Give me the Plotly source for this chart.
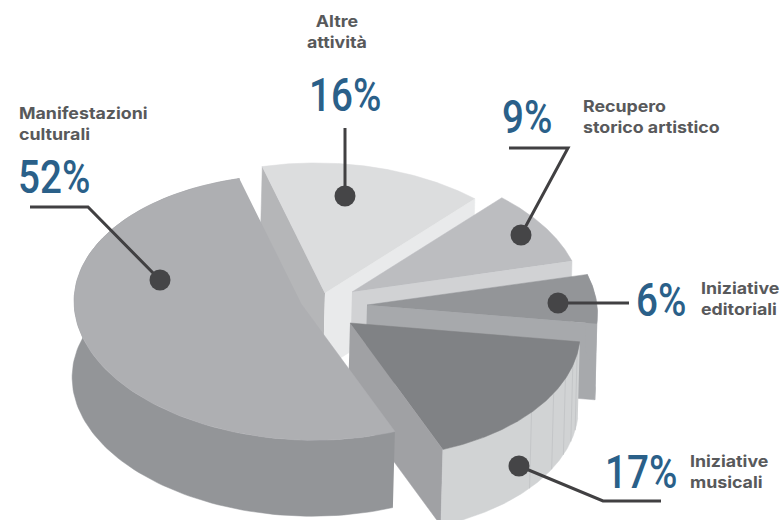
import numpy as np
import plotly.graph_objects as go

# Survey shares, in clockwise drawing order starting from "Altre attività"
categories = ["Altre attività", "Recupero storico artistico", "Iniziative editoriali",
              "Iniziative musicali", "Manifestazioni culturali"]
shares = [16, 9, 6, 17, 52]

TOP_COLORS = ["#dcddde", "#bcbdc0", "#939598", "#808285", "#aeafb2"]
START_FACE = ["#b5b6b8", None, None, None, None]
END_FACE = ["#e9eaeb", "#d1d2d4", "#a7a9ac", "#a0a1a4", None]
OUTER_WALL = [None, None, "#a7a9ac", "#d1d3d4", "#939598"]

# Projection of the unit circle on the page, the extrusion and each wedge's exploded apex
AXIS_P = np.array([-64.0, -129.0])
AXIS_Q = np.array([220.0, -31.0])
PERSPECTIVE = 0.02
DEPTH = np.array([-2.0, 76.0])
APEX = [(325, 293), (352, 292), (367, 305), (350, 323), (302, 305)]

# Facet seams on the musical wedge's wall, in degrees around the circle
SEAMS_DEG = [145, 135, 128, 122, 117]

TEXT_GREY = "#58595b"
BLUE = "#2a6089"
LEADER = "#414042"


def rim(apex, deg):
    rad = np.radians(deg)
    scale = (1 - PERSPECTIVE * np.cos(rad))[:, None]
    return np.asarray(apex, float) + scale * (np.outer(np.cos(rad), AXIS_P) + np.outer(np.sin(rad), AXIS_Q))


def polygon(fig, pts, color):
    pts = np.asarray(pts)
    fig.add_trace(go.Scatter(
        x=pts[:, 0], y=pts[:, 1], mode="lines", fill="toself", fillcolor=color,
        line=dict(color=color, width=0.5), hoverinfo="skip", showlegend=False))


fig = go.Figure()
edges = np.concatenate([[0], np.cumsum(shares) * 3.6])

for i in range(len(shares)):
    apex = np.array(APEX[i], float)
    angles = np.linspace(edges[i], edges[i + 1], 120)
    arc = rim(apex, angles)
    if START_FACE[i]:
        polygon(fig, [apex, arc[0], arc[0] + DEPTH, apex + DEPTH], START_FACE[i])
    if END_FACE[i]:
        polygon(fig, [apex, arc[-1], arc[-1] + DEPTH, apex + DEPTH], END_FACE[i])
    if OUTER_WALL[i]:
        polygon(fig, np.vstack([arc, (arc + DEPTH)[::-1]]), OUTER_WALL[i])
    if i == 3:
        for seam in SEAMS_DEG:
            s = rim(apex, [seam])[0]
            fig.add_trace(go.Scatter(
                x=[s[0], s[0] + DEPTH[0]], y=[s[1], s[1] + DEPTH[1]], mode="lines",
                line=dict(color="#c4c6c8", width=1), hoverinfo="skip", showlegend=False))
    polygon(fig, np.vstack([apex, arc]), TOP_COLORS[i])

# Callout leaders, each starting from its dot
leaders = [
    ([345, 345], [196, 128]),
    ([521, 568, 509], [235, 148, 148]),
    ([558, 629], [303, 303]),
    ([519, 603, 661], [466, 501, 501]),
    ([160, 88, 30], [280, 207, 207]),
]
for xs, ys in leaders:
    fig.add_trace(go.Scatter(x=xs, y=ys, mode="lines", line=dict(color=LEADER, width=3),
                             hoverinfo="skip", showlegend=False))
fig.add_trace(go.Scatter(x=[l[0][0] for l in leaders], y=[l[1][0] for l in leaders], mode="markers",
                         marker=dict(size=21, color="#454547"), hoverinfo="skip", showlegend=False))

# Percentages: left edge and vertical centre of each figure
pct_pos = [(307, 95), (500, 117), (634, 300), (603, 472), (16, 177)]
annotations = []
for share, (x, y) in zip(shares, pct_pos):
    annotations.append(dict(x=x, y=y, text=f"{share}%", showarrow=False, xanchor="left", yanchor="middle",
                            font=dict(family="Roboto", size=46, color=BLUE, weight=500)))

# Category names, wrapped as they are set on the page
name_labels = [
    ("Altre<br>attività", 337, 31, "center"),
    ("Recupero<br>storico artistico", 581, 116, "left"),
    ("Iniziative<br>editoriali", 699, 298, "left"),
    ("Iniziative<br>musicali", 688, 471, "left"),
    ("Manifestazioni<br>culturali", 17, 123, "left"),
]
for text, x, y, anchor in name_labels:
    annotations.append(dict(x=x, y=y, text=text, showarrow=False, xanchor=anchor, yanchor="middle",
                            align=anchor, font=dict(family="Inter", size=16, color=TEXT_GREY, weight=700)))

fig.update_layout(
    width=783, height=520, margin=dict(l=0, r=0, t=0, b=0),
    paper_bgcolor="white", plot_bgcolor="white", showlegend=False,
    xaxis=dict(range=[0, 783], visible=False, fixedrange=True),
    yaxis=dict(range=[520, 0], visible=False, fixedrange=True),
    annotations=annotations,
)

# Percentage figures are set condensed, category names slightly extended
adjust_widths = """
document.querySelectorAll('.annotation-text').forEach(function (t) {
  var pct = t.textContent.endsWith('%');
  var centred = !pct && t.getAttribute('text-anchor') === 'middle';
  t.style.transformBox = 'fill-box';
  t.style.transformOrigin = (centred ? '50%' : '0') + ' 50%';
  t.style.transform = 'scaleX(' + (pct ? 0.84 : 1.11) + ')';
});
"""
fig.write_html("out.html", config={"displayModeBar": False}, post_script=adjust_widths)
